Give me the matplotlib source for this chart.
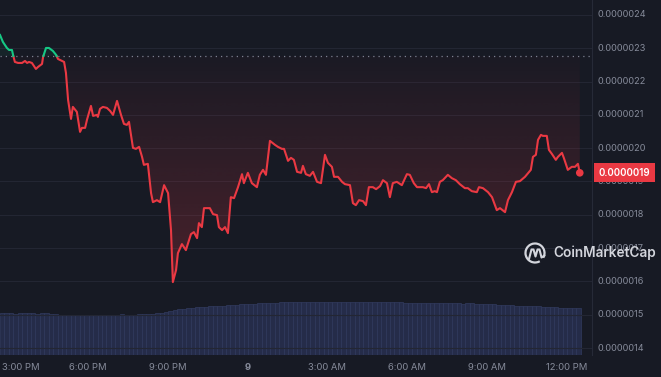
import numpy as np
import matplotlib
matplotlib.use("Agg")
import matplotlib.pyplot as plt
from matplotlib.patches import PathPatch, Circle, Arc
from matplotlib.path import Path
from matplotlib.transforms import blended_transform_factory

plt.rcParams['font.family'] = ['Inter', 'DejaVu Sans']

# ---------------- data ----------------
# time in hours after 12:00 on day 8 (3 = 3:00 PM, 12 = midnight "9", 24 = 12:00 PM)
hours = [2.69, 2.80, 2.95, 3.03, 3.14, 3.18, 3.25, 3.37, 3.52, 3.63, 3.71, 3.78, 3.89, 4.04, 4.12,
         4.27, 4.31, 4.42, 4.53, 4.68, 4.80, 4.87, 5.02, 5.10, 5.17, 5.25, 5.36, 5.43, 5.58, 5.70,
         5.77, 5.89, 5.96, 6.11, 6.19, 6.34, 6.37, 6.45, 6.56, 6.71, 6.83, 6.94, 7.09, 7.24, 7.35,
         7.46, 7.54, 7.69, 7.80, 7.92, 8.03, 8.10, 8.25, 8.37, 8.44, 8.59, 8.71, 8.86, 9.01, 9.12,
         9.19, 9.31, 9.38, 9.53, 9.68, 9.87, 9.98, 10.10, 10.17, 10.28, 10.36, 10.58, 10.70, 10.85, 10.92,
         11.04, 11.15, 11.26, 11.37, 11.49, 11.64, 11.79, 11.86, 12.01, 12.16, 12.35, 12.46, 12.58, 12.69, 12.84,
         13.03, 13.14, 13.29, 13.37, 13.52, 13.63, 13.74, 13.86, 14.01, 14.08, 14.19, 14.34, 14.46, 14.61, 14.76,
         14.91, 15.02, 15.17, 15.25, 15.40, 15.55, 15.66, 15.85, 15.96, 16.07, 16.19, 16.34, 16.45, 16.56, 16.71,
         16.83, 16.98, 17.09, 17.24, 17.35, 17.46, 17.61, 17.80, 17.99, 18.10, 18.25, 18.37, 18.59, 18.71, 18.82,
         18.93, 19.04, 19.12, 19.23, 19.34, 19.53, 19.68, 19.83, 19.98, 20.17, 20.28, 20.43, 20.62, 20.70, 20.85,
         21.04, 21.19, 21.26, 21.37, 21.49, 21.68, 21.79, 21.94, 22.09, 22.24, 22.43, 22.65, 22.73, 22.84, 22.92,
         23.03, 23.10, 23.25, 23.33, 23.44, 23.59, 23.67, 23.82, 23.89, 24.04, 24.19, 24.31, 24.42, 24.49]

# price in units of 1e-6
price_e6 = [2.340, 2.319, 2.301, 2.295, 2.295, 2.280, 2.259, 2.256, 2.256, 2.262, 2.256, 2.259, 2.256, 2.238, 2.244,
            2.253, 2.274, 2.301, 2.301, 2.292, 2.280, 2.268, 2.262, 2.259, 2.226, 2.145, 2.088, 2.124, 2.109, 2.049,
            2.061, 2.061, 2.085, 2.127, 2.097, 2.100, 2.094, 2.118, 2.124, 2.121, 2.112, 2.100, 2.142, 2.100, 2.073,
            2.070, 2.079, 2.001, 1.998, 2.004, 1.974, 1.950, 1.953, 1.865, 1.838, 1.844, 1.838, 1.889, 1.865, 1.754,
            1.598, 1.634, 1.685, 1.712, 1.694, 1.742, 1.748, 1.730, 1.775, 1.763, 1.820, 1.820, 1.802, 1.799, 1.763,
            1.754, 1.763, 1.745, 1.853, 1.850, 1.883, 1.922, 1.895, 1.926, 1.895, 1.883, 1.920, 1.935, 1.920, 2.022,
            2.010, 2.004, 1.998, 1.998, 1.962, 1.971, 1.965, 1.929, 1.926, 1.947, 1.922, 1.917, 1.929, 1.899, 1.895,
            1.980, 1.956, 1.944, 1.914, 1.914, 1.899, 1.892, 1.889, 1.835, 1.829, 1.844, 1.841, 1.829, 1.883, 1.883,
            1.877, 1.886, 1.904, 1.895, 1.853, 1.895, 1.899, 1.889, 1.922, 1.920, 1.895, 1.883, 1.883, 1.880, 1.892,
            1.868, 1.871, 1.868, 1.899, 1.904, 1.920, 1.910, 1.904, 1.892, 1.880, 1.880, 1.871, 1.868, 1.883, 1.880,
            1.868, 1.853, 1.838, 1.814, 1.820, 1.808, 1.844, 1.868, 1.899, 1.901, 1.914, 1.935, 1.974, 1.980, 2.025,
            2.040, 2.037, 2.037, 1.995, 1.983, 1.965, 1.974, 1.986, 1.971, 1.935, 1.944, 1.944, 1.953, 1.926]

open_price_e6 = 2.277

# volume (arbitrary units), 10-minute buckets starting at the first timestamp
volume = [4.20, 4.20, 4.20, 4.15, 4.20, 4.25, 4.20, 4.20, 4.15, 4.20, 4.20, 4.15, 4.10,
          4.05, 4.05, 4.00, 4.05, 4.05, 4.00, 4.05, 4.05, 4.00, 4.05, 4.05, 4.05, 4.00, 4.05, 4.10, 4.05, 4.05, 4.05, 4.10, 4.10,
          4.10, 4.15, 4.20, 4.25,
          4.30, 4.40, 4.50,
          4.60, 4.65, 4.70, 4.75, 4.80, 4.80,
          4.85, 4.90, 4.90, 4.95, 4.95, 5.00, 5.00,
          5.05, 5.10, 5.10, 5.15, 5.15, 5.20, 5.20, 5.20,
          5.25, 5.25, 5.30, 5.30, 5.30, 5.30, 5.30, 5.30,
          5.30, 5.35, 5.30, 5.30, 5.35, 5.30, 5.30, 5.30, 5.35, 5.30, 5.30, 5.30, 5.30, 5.35, 5.30, 5.30, 5.30, 5.30, 5.30, 5.30, 5.30, 5.30,
          5.25, 5.25, 5.25, 5.25, 5.25, 5.20, 5.25, 5.20, 5.20, 5.20, 5.20, 5.20, 5.20, 5.15, 5.20, 5.20, 5.15, 5.15,
          5.15, 5.10, 5.10, 5.05, 5.05, 5.00, 5.00, 4.95, 4.95, 4.95, 4.90, 4.90, 4.90, 4.85,
          4.85, 4.80, 4.80, 4.75, 4.75, 4.75, 4.70, 4.70]
volume_step_h = 1 / 6

ytick_vals = [1.4, 1.5, 1.6, 1.7, 1.8, 1.9, 2.0, 2.1, 2.2, 2.3, 2.4]
xtick_hours = [3, 6, 9, 12, 15, 18, 21, 24]
xtick_labels = ['3:00 PM', '6:00 PM', '9:00 PM', '9', '3:00 AM', '6:00 AM', '9:00 AM', '12:00 PM']

# ---------------- style ----------------
BG = '#171a24'
RED = '#ea3943'
GREEN = '#16c784'
GRID = '#232633'
TXT = '#868b9a'

W, H = 661, 377
fig = plt.figure(figsize=(W / 100, H / 100), dpi=100, facecolor=BG)

ax_rect = [0, 22 / H, 592 / W, 355 / H]
ax_vol = fig.add_axes(ax_rect)
ax_vol.set_facecolor(BG)
ax = fig.add_axes(ax_rect)
ax.patch.set_visible(False)

XMIN, XMAX = 2.69, 24.95
YMIN, YMAX = 1.379, 2.445

# volume bars
h0 = hours[0]
vx = [h0 + (i + 0.5) * volume_step_h for i in range(len(volume))]
ax_vol.bar(vx, volume, width=volume_step_h, color='#252c49', edgecolor='#323b5f', linewidth=0.5)
ax_vol.set_xlim(XMIN, XMAX)
ax_vol.set_ylim(0, 35.5)
ax_vol.axis('off')

# price line with colour split at the open price
h = np.array(hours)
p = np.array(price_e6)
base = open_price_e6
hh = [h[0]]
pp = [p[0]]
for i in range(1, len(h)):
    if (p[i - 1] - base) * (p[i] - base) < 0:
        t = (base - p[i - 1]) / (p[i] - p[i - 1])
        hh.append(h[i - 1] + t * (h[i] - h[i - 1]))
        pp.append(base)
    hh.append(h[i])
    pp.append(p[i])
hh = np.array(hh)
pp = np.array(pp)

# gradient fill between line and open price (below)
fb = ax.fill_between(hh, pp, base, where=pp <= base, interpolate=True, facecolor='none', edgecolor='none')
paths = fb.get_paths()
cpath = Path.make_compound_path(*paths)
patch = PathPatch(cpath, transform=ax.transData, facecolor='none', edgecolor='none')
ax.add_patch(patch)
n = 256
grad = np.zeros((n, 1, 4))
rgb = matplotlib.colors.to_rgb(RED)
grad[:, 0, 0:3] = rgb
grad[:, 0, 3] = np.linspace(0.24, 0.02, n)
im = ax.imshow(grad, extent=[XMIN, XMAX, pp.min(), base], origin='lower', aspect='auto', zorder=1,
               interpolation='bilinear')
im.set_clip_path(patch)

# fill for green section (above)
fbg = ax.fill_between(hh, pp, base, where=pp >= base, interpolate=True, facecolor=GREEN, alpha=0.06,
                      edgecolor='none', zorder=1)

red = np.where(pp <= base, pp, np.nan)
green = np.where(pp >= base, pp, np.nan)
ax.plot(hh, red, color=RED, lw=1.5, zorder=4, solid_joinstyle='round')
ax.plot(hh, green, color=GREEN, lw=1.5, zorder=4, solid_joinstyle='round')

# open price dotted line
ax.axhline(base, color='#7c8191', lw=0.9, ls=(0, (1, 3.2)), zorder=3)

# end dot
ax.scatter([hours[-1]], [price_e6[-1]], s=30, color=RED, zorder=5, edgecolors='none')

ax.set_xlim(XMIN, XMAX)
ax.set_ylim(YMIN, YMAX)

# grid
for v in ytick_vals:
    ax.axhline(v, color=GRID, lw=0.8, zorder=0.5)

ax.set_xticks([])
ax.set_yticks([])
for s in ['top', 'left', 'bottom']:
    ax.spines[s].set_visible(False)
ax.spines['right'].set_color('#262a37')
ax.spines['right'].set_linewidth(0.8)

# y labels
ytr = blended_transform_factory(ax.transAxes, ax.transData)
for v in ytick_vals:
    ax.text(598 / 592, v, f"{v * 1e-6:.7f}", transform=ytr, ha='left', va='center',
            fontsize=6.6, color=TXT, clip_on=False)

# x labels
xtr = blended_transform_factory(ax.transData, ax.transAxes)
for i, (hv, lab) in enumerate(zip(xtick_hours, xtick_labels)):
    if i == 0:
        ax.text(XMIN + 2 / 26.6, -12 / 355, lab, transform=xtr, ha='left', va='center',
                fontsize=6.8, color=TXT, clip_on=False)
    else:
        ax.text(hv, -12 / 355, lab, transform=xtr, ha='center', va='center',
                fontsize=6.8, color=TXT, clip_on=False,
                fontweight='bold' if lab == '9' else 'normal')

# current price label
last = price_e6[-1]
ax.text(598.5 / 592, last, f"{round(last, 1) * 1e-6:.7f}", transform=ytr, ha='left', va='center',
        fontsize=7, color='white', fontweight='semibold', clip_on=False, zorder=10,
        bbox=dict(boxstyle='square,pad=0.45', facecolor=RED, edgecolor='none'))

# watermark (pixel overlay)
ov = fig.add_axes([0, 0, 1, 1])
ov.set_xlim(0, W)
ov.set_ylim(H, 0)
ov.axis('off')
ov.patch.set_visible(False)
WM = '#d3d5dc'
ov.add_patch(Arc((535, 253), 19, 19, theta1=60, theta2=390, color=WM, lw=1.6))
ov.plot([529, 531.5, 533.5, 535.5, 537.5, 539.5, 541.5, 544.5],
        [259, 249.5, 249.5, 256.5, 249.5, 249.5, 257.5, 255.5], color=WM, lw=1.5,
        solid_joinstyle='round', solid_capstyle='round')
ov.text(553, 253, 'CoinMarketCap', ha='left', va='center', fontsize=9.8, color=WM, fontweight='semibold')

fig.savefig('out.png', dpi=100, facecolor=BG)
